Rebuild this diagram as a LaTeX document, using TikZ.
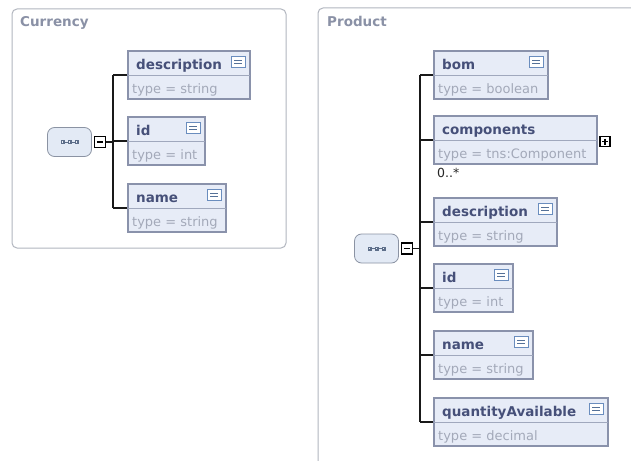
\documentclass[tikz,border=0pt]{standalone}
\usepackage{fontspec}
\setmainfont{DejaVu Sans}
\usetikzlibrary{calc}

\definecolor{panelline}{HTML}{B2B6BF}
\definecolor{paneltitle}{HTML}{8A91A6}
\definecolor{boxline}{HTML}{8A92AB}
\definecolor{boxfill}{HTML}{E7ECF7}
\definecolor{divider}{HTML}{A0A8BD}
\definecolor{titleink}{HTML}{465079}
\definecolor{typeink}{HTML}{A3A9B9}
\definecolor{iconline}{HTML}{6A8DBE}
\definecolor{compfill}{HTML}{E3EAF5}
\definecolor{compline}{HTML}{8B93A3}
\definecolor{compdots}{HTML}{5E6F8A}

\tikzset{
  panel/.style={draw=panelline, line width=1pt, rounded corners=5pt, fill=white},
  paneltext/.style={font=\bfseries\fontsize{13.5}{15}\selectfont, text=paneltitle, anchor=base west, inner sep=0},
  elembox/.style={rectangle, draw=boxline, line width=2.2pt, fill=boxfill, inner sep=0, minimum height=48pt},
  divline/.style={draw=divider, line width=0.9pt},
  titletext/.style={font=\bfseries\fontsize{13.5}{15}\selectfont, text=titleink, anchor=base west, inner sep=0},
  typetext/.style={font=\fontsize{13}{15}\selectfont, text=typeink, anchor=base west, inner sep=0},
  iconbox/.style={rectangle, draw=iconline, line width=1pt, fill=white, inner sep=0, minimum width=14pt, minimum height=11pt},
  iconmark/.style={draw=iconline!80!black, line width=0.8pt},
  compbox/.style={rectangle, draw=compline, line width=0.8pt, fill=compfill, rounded corners=7pt, inner sep=0, minimum width=44pt, minimum height=29pt},
  togglebox/.style={rectangle, draw=black, line width=1.1pt, fill=white, inner sep=0, minimum width=11pt, minimum height=11pt},
  tree/.style={draw=black!90, line width=1.4pt},
  cardtext/.style={font=\fontsize{12.5}{14}\selectfont, text=black!85, anchor=base west, inner sep=0},
}

% element box: name, left, top, width, title, type
\newcommand\xsdelem[6]{%
  \node[elembox, minimum width=#4pt-2pt] (#1) at (#2+#4/2,#3+25) {};
  \draw[divline] ($(#1.west)+(1.2,0)$) -- ($(#1.east)+(-1.2,0)$);
  \node[titletext] (#1-title) at ($(#2,#3)+(9,19)$) {#5};
  \node[typetext] (#1-type) at ($(#2,#3)+(5,43)$) {#6};
}
% documentation icon in the title row of an element
\newcommand\xsdicon[1]{%
  \node[iconbox] (#1-icon) at ($(#1.north east)+(-13,12)$) {};
  \draw[iconmark] ($(#1-icon.center)+(-4,-1.6)$) -- ($(#1-icon.center)+(4,-1.6)$);
  \draw[iconmark] ($(#1-icon.center)+(-4,1.6)$) -- ($(#1-icon.center)+(4,1.6)$);
}
% sequence compositor with its collapse toggle
\newcommand\xsdseq[3]{% name, centre x, centre y
  \node[compbox] (#1) at (#2,#3) {};
  \draw[compdots, line width=0.9pt] ($(#1.center)+(-7,0)$) -- ($(#1.center)+(7,0)$);
  \foreach \dx in {-7,0,7}
    \fill[compdots] ($(#1.center)+(\dx,0)+(-2,-2)$) rectangle ($(#1.center)+(\dx,0)+(2,2)$);
  \foreach \dx in {-7,0,7}
    \fill[compfill!70!white] ($(#1.center)+(\dx,0)+(-0.9,-0.9)$) rectangle ($(#1.center)+(\dx,0)+(0.9,0.9)$);
  \node[togglebox] (#1-tog) at ($(#1.east)+(8,0)$) {};
  \draw[black, line width=1.1pt] ($(#1-tog.center)+(-3,0)$) -- ($(#1-tog.center)+(3,0)$);
}

\begin{document}
\begin{tikzpicture}[x=1pt, y=-1pt]
\useasboundingbox (0,0) rectangle (631,460);
\fill[white] (0,0) rectangle (631,460);
\clip (0,0) rectangle (631,460);

% ---------- Currency ----------
\draw[panel] (12,9) rectangle (286,248);
\node[paneltext] (curTitle) at (20,27) {Currency};

\xsdelem{cDesc}{127}{50}{124}{description}{type = string}
\xsdicon{cDesc}
\xsdelem{cId}{127}{116}{79}{id}{type = int}
\xsdicon{cId}
\xsdelem{cName}{127}{183}{100}{name}{type = string}
\xsdicon{cName}

\xsdseq{cSeq}{69.5}{142}
\coordinate (cSpine) at (113,142);
\draw[tree] (cSeq-tog.east) -- (cSpine);
\draw[tree] (cSpine |- cDesc.west) -- (cSpine |- cName.west);
\foreach \e in {cDesc,cId,cName}
  \draw[tree] (cSpine |- \e.west) -- (\e.west);

% ---------- Product ----------
\draw[panel] (318,8) rectangle (700,520);
\node[paneltext] (prodTitle) at (327,27) {Product};

\xsdelem{pBom}{433}{50}{116}{bom}{type = boolean}
\xsdicon{pBom}
\xsdelem{pComp}{433}{115}{165}{components}{type = tns:Component}
\node[togglebox, minimum width=10pt, minimum height=10pt] (pCompTog) at (605,141.5) {};
\draw[black, line width=1.1pt] ($(pCompTog.center)+(-3,0)$) -- ($(pCompTog.center)+(3,0)$);
\draw[black, line width=1.1pt] ($(pCompTog.center)+(0,-3)$) -- ($(pCompTog.center)+(0,3)$);
\node[cardtext] (pCompCard) at (437,177) {0..*};
\xsdelem{pDesc}{433}{197}{125}{description}{type = string}
\xsdicon{pDesc}
\xsdelem{pId}{433}{263}{81}{id}{type = int}
\xsdicon{pId}
\xsdelem{pName}{433}{330}{101}{name}{type = string}
\xsdicon{pName}
\xsdelem{pQty}{433}{397}{176}{quantityAvailable}{type = decimal}
\xsdicon{pQty}

\xsdseq{pSeq}{376.5}{248.5}
\coordinate (pSpine) at (420,248.5);
\draw[tree] (pSeq-tog.east) -- (pSpine);
\draw[tree] (pSpine |- pBom.west) -- (pSpine |- pQty.west);
\foreach \e in {pBom,pComp,pDesc,pId,pName,pQty}
  \draw[tree] (pSpine |- \e.west) -- (\e.west);
\end{tikzpicture}
\end{document}
